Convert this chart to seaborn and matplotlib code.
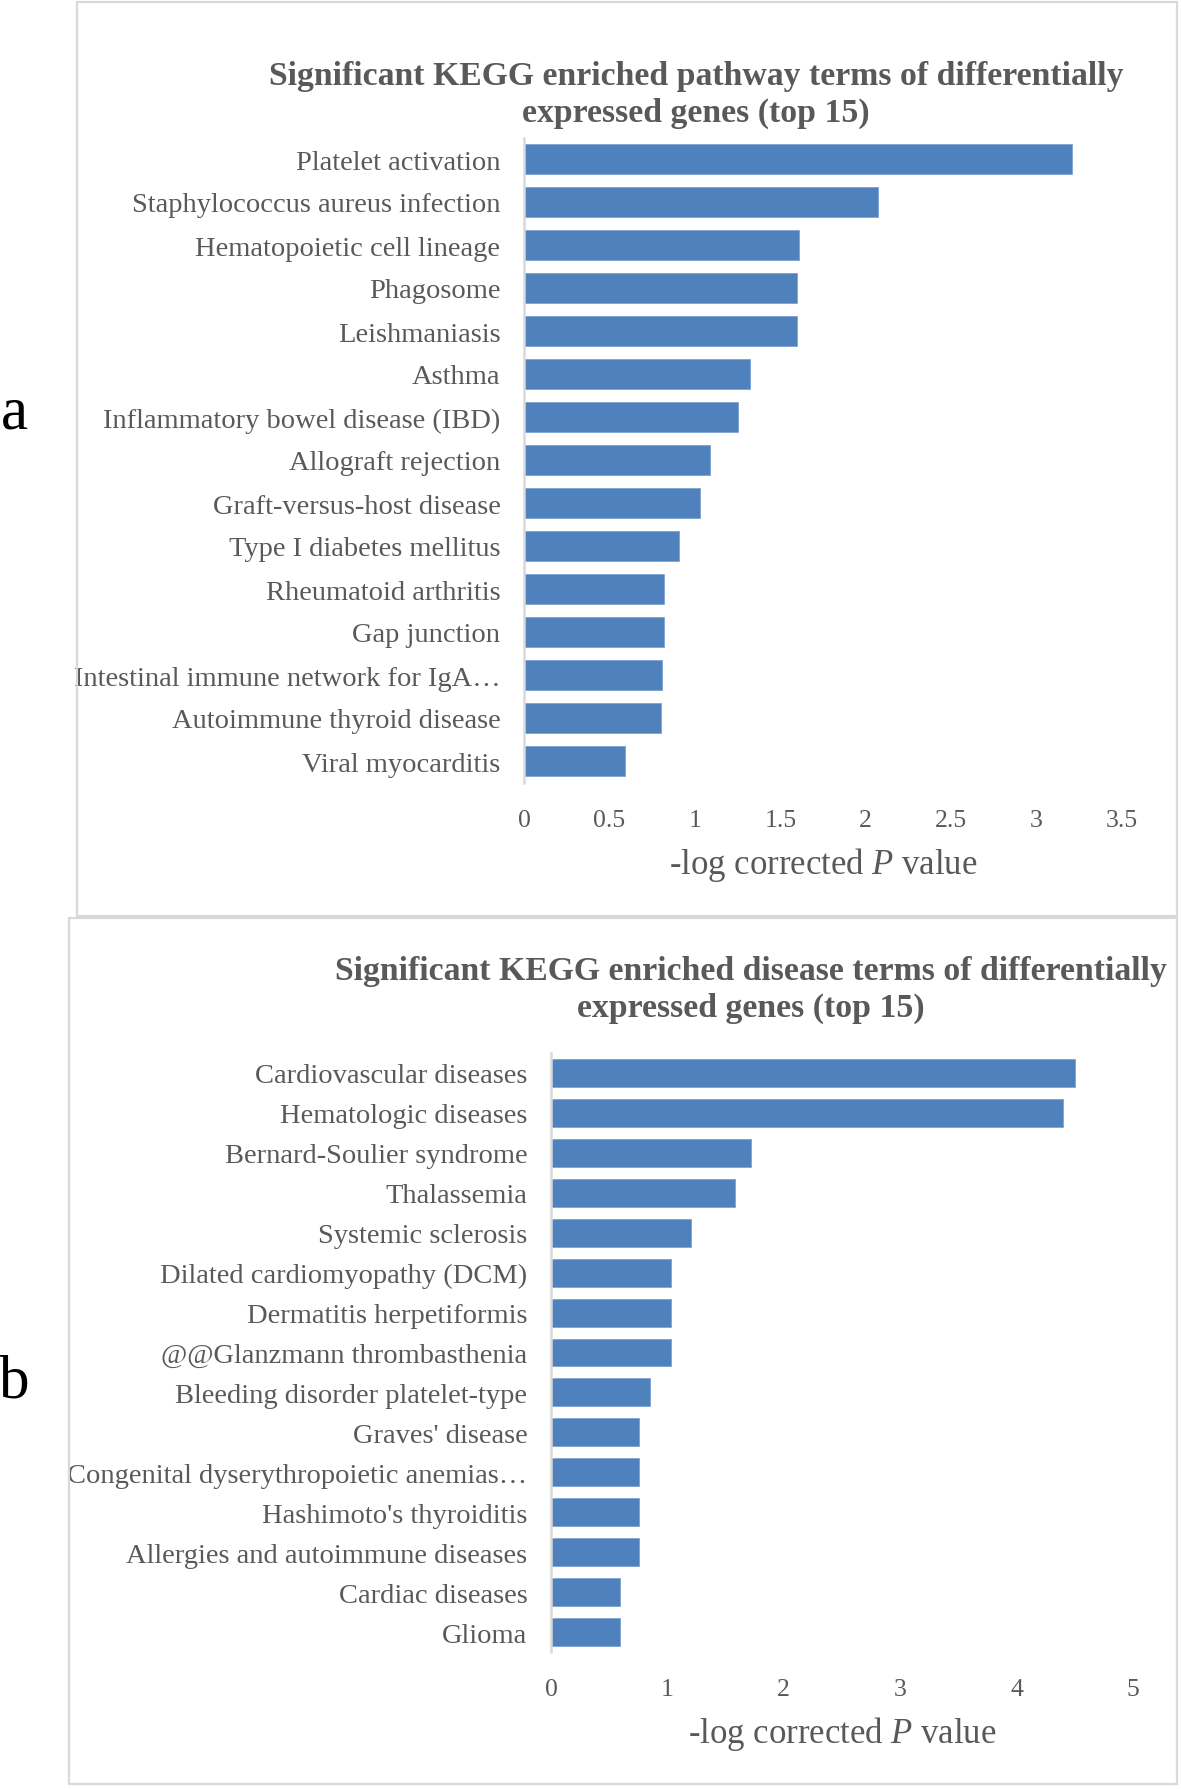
import matplotlib
matplotlib.use("Agg")
import matplotlib.pyplot as plt
import seaborn as sns
import pandas as pd
from matplotlib.patches import Rectangle

# values
pathway_terms = [
    "Platelet activation",
    "Staphylococcus aureus infection",
    "Hematopoietic cell lineage",
    "Phagosome",
    "Leishmaniasis",
    "Asthma",
    "Inflammatory bowel disease (IBD)",
    "Allograft rejection",
    "Graft-versus-host disease",
    "Type I diabetes mellitus",
    "Rheumatoid arthritis",
    "Gap junction",
    "Intestinal immune network for IgA\u2026",
    "Autoimmune thyroid disease",
    "Viral myocarditis",
]
pathway_values = [3.21, 2.07, 1.61, 1.60, 1.60, 1.32, 1.25, 1.09, 1.03, 0.91,
                  0.82, 0.82, 0.81, 0.80, 0.59]

disease_terms = [
    "Cardiovascular diseases",
    "Hematologic diseases",
    "Bernard-Soulier syndrome",
    "Thalassemia",
    "Systemic sclerosis",
    "Dilated cardiomyopathy (DCM)",
    "Dermatitis herpetiformis",
    "@@Glanzmann thrombasthenia",
    "Bleeding disorder platelet-type",
    "Graves' disease",
    "Congenital dyserythropoietic anemias\u2026",
    "Hashimoto's thyroiditis",
    "Allergies and autoimmune diseases",
    "Cardiac diseases",
    "Glioma",
]
disease_values = [4.50, 4.40, 1.72, 1.58, 1.20, 1.03, 1.03, 1.03, 0.85, 0.76,
                  0.76, 0.76, 0.76, 0.59, 0.59]

pathway_ticks = [0, 0.5, 1, 1.5, 2, 2.5, 3, 3.5]
disease_ticks = [0, 1, 2, 3, 4, 5]

title_a = "Significant KEGG enriched pathway terms of differentially\nexpressed genes (top 15)"
title_b = "Significant KEGG enriched disease terms of differentially\nexpressed genes (top 15)"
xlabel = "-log corrected $\\it{P}$ value"

sns.set_style("white")
plt.rcParams["font.family"] = ["Liberation Serif", "DejaVu Serif"]
plt.rcParams["mathtext.fontset"] = "custom"
plt.rcParams["mathtext.it"] = "Liberation Serif:italic"
plt.rcParams["mathtext.rm"] = "Liberation Serif"

BAR = "#4F81BD"
GREY = "#595959"
FRAME = "#D9D9D9"
W, H = 1181, 1790

fig = plt.figure(figsize=(11.81, 17.90), dpi=100)

# chart frames (drawn in pixel units, converted to figure fraction)
for x0, y0, x1, y1 in [(77, 3, 1177, 917), (69, 919, 1177, 1785)]:
    fig.patches.append(Rectangle((x0 / W, 1 - y1 / H), (x1 - x0) / W, (y1 - y0) / H,
                                 transform=fig.transFigure, fill=False,
                                 edgecolor=FRAME, linewidth=1.6))


def draw_panel(rect, terms, values, ticks, title, title_xy):
    ax = fig.add_axes(rect)
    df = pd.DataFrame({"term": terms, "value": values})
    sns.barplot(x="value", y="term", data=df, orient="h", color=BAR,
                width=0.7, saturation=1, edgecolor="#7DA2D3", linewidth=0.6, ax=ax)
    ax.set_xlim(ticks[0], ticks[-1])
    ax.set_ylim(len(terms) - 0.5, -0.5)
    ax.set_xticks(ticks)
    ax.set_xticklabels([f"{t:g}" for t in ticks])
    ax.set_ylabel("")
    ax.set_xlabel(xlabel, fontsize=25, color=GREY, labelpad=10)
    for s in ["top", "right", "bottom"]:
        ax.spines[s].set_visible(False)
    ax.spines["left"].set_color(FRAME)
    ax.spines["left"].set_linewidth(1.8)
    ax.tick_params(axis="x", length=0, pad=19, labelsize=18.5, labelcolor=GREY)
    ax.tick_params(axis="y", length=0, pad=17, labelsize=20.5, labelcolor=GREY)
    fig.text(title_xy[0] / W, 1 - title_xy[1] / H, title, ha="center", va="center",
             fontsize=24.3, fontweight="bold", color=GREY, linespacing=1.28)
    return ax


draw_panel([524 / W, 1 - 783.5 / H, 598 / W, 645 / H], pathway_terms, pathway_values,
           pathway_ticks, title_a, (696, 95))
draw_panel([551 / W, 1 - 1653 / H, 582 / W, 599 / H], disease_terms, disease_values,
           disease_ticks, title_b, (751, 990))

fig.text(14 / W, 1 - 414 / H, "a", ha="center", va="center", fontsize=44, color="black")
fig.text(14 / W, 1 - 1383 / H, "b", ha="center", va="center", fontsize=44, color="black")

plt.savefig("out.png", dpi=100)
